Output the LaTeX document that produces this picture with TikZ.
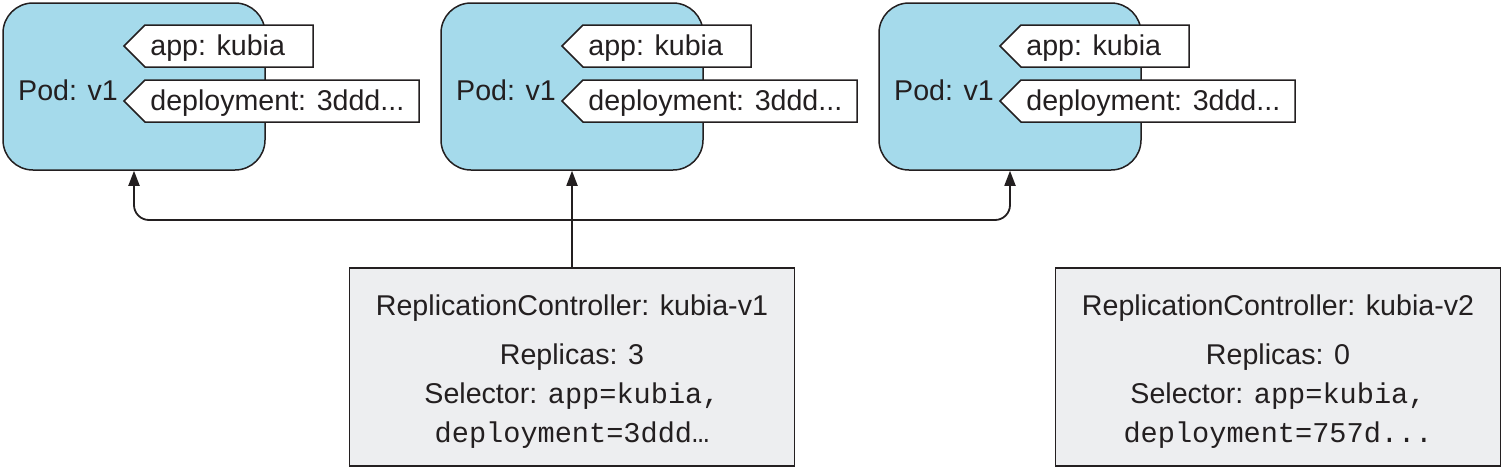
\documentclass[tikz,border=0pt]{standalone}
\usepackage{fontspec}
\setmainfont{Liberation Sans}
\setmonofont{Liberation Mono}
\usetikzlibrary{arrows.meta}
\definecolor{podblue}{HTML}{A5DAEB}
\definecolor{rcgray}{HTML}{EDEEF0}
\definecolor{edge}{HTML}{231F20}
\begin{document}
\begin{tikzpicture}[x=0.5pt,y=-0.5pt,
  every node/.style={font=\fontsize{14.3}{19.5}\selectfont, text=edge},
  pod/.style={draw=edge, line width=0.75pt, fill=podblue, rounded corners=15pt,
    minimum width=131pt, minimum height=83.5pt, inner sep=0pt},
  tagshape/.style={draw=edge, line width=0.75pt, fill=white},
  tagtext/.style={anchor=west, inner sep=0pt},
  rcbox/.style={draw=edge, line width=0.75pt, fill=rcgray, minimum width=222.5pt,
    minimum height=99pt, inner sep=0pt},
  rctext/.style={align=center, inner sep=0pt},
  conn/.style={draw=edge, line width=0.9pt, rounded corners=7.5pt,
    -{Stealth[length=7.5pt,width=5.5pt,inset=0pt]}}
]
\useasboundingbox (0,0) rectangle (1504,471);

\foreach \i/\dx in {1/0,2/438,3/876}{
  \node[pod] (pod\i) at (134+\dx,86.5) {};
  \node[anchor=center, inner sep=0pt] (podlabel\i) at (68+\dx,90) {Pod: v1};
  \draw[tagshape] (124+\dx,46) -- (145+\dx,25) -- (313+\dx,25) -- (313+\dx,67) -- (145+\dx,67) -- cycle;
  \node[tagtext] (app\i) at (150+\dx,48.5) {app: kubia};
  \draw[tagshape] (124+\dx,101) -- (145+\dx,80) -- (419+\dx,80) -- (419+\dx,122) -- (145+\dx,122) -- cycle;
  \node[tagtext] (dep\i) at (150+\dx,103.5) {deployment: 3ddd...};
}

\node[rcbox] (rc1) at (572,367) {};
\node[rctext] (rc1text) at (572,371.5) {ReplicationController: kubia-v1\\[5pt]
  Replicas: 3\\
  Selector: \texttt{app=kubia,}\\
  \texttt{deployment=3ddd…}};
\node[rcbox] (rc2) at (1278,367) {};
\node[rctext] (rc2text) at (1278,371.5) {ReplicationController: kubia-v2\\[5pt]
  Replicas: 0\\
  Selector: \texttt{app=kubia,}\\
  \texttt{deployment=757d...}};

\coordinate (j) at (572,220);
\draw[conn] (rc1.north) -- (pod2.south);
\draw[conn] (j) -| (pod1.south);
\draw[conn] (j) -| (pod3.south);
\end{tikzpicture}
\end{document}
